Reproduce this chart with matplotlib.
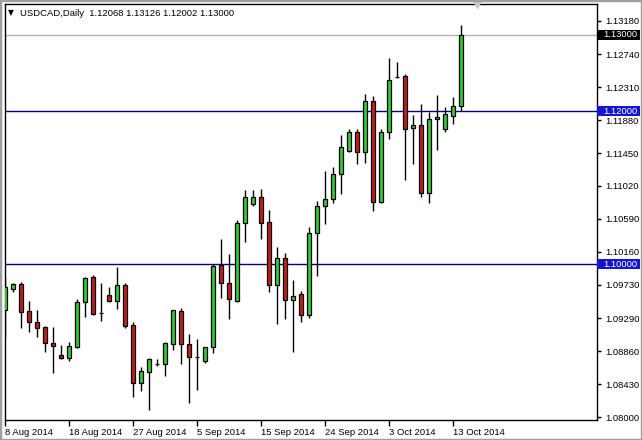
import numpy as np
import pandas as pd
import matplotlib
matplotlib.use("Agg")
import matplotlib.pyplot as plt
import matplotlib.transforms as mtransforms
from matplotlib.patches import Rectangle

plt.rcParams['font.family'] = ['Liberation Sans', 'DejaVu Sans']

# Daily bars, broker feed includes Sunday sessions (Saturdays skipped)
days = pd.date_range("2014-08-08", "2014-10-14", freq="D")
dates = [d for d in days if d.weekday() != 5]

opens = [1.09399, 1.09669, 1.09739, 1.09382, 1.09242, 1.09176, 1.08963, 1.08810,
         1.08775, 1.08911, 1.09507, 1.09830, 1.09355, 1.09595, 1.09520, 1.09725,
         1.09203, 1.08440, 1.08592, 1.08693, 1.08689, 1.08950, 1.09389, 1.08950,
         1.08788, 1.08736, 1.08911, 1.09987, 1.09748, 1.09516, 1.10532, 1.10780,
         1.10880, 1.10545, 1.09725, 1.10074, 1.09529, 1.09608, 1.09333, 1.10401,
         1.10758, 1.10846, 1.11173, 1.11477, 1.11722, 1.11460, 1.12131, 1.10807,
         1.11722, 1.12450, 1.12458, 1.11774, 1.11817, 1.10932, 1.11891, 1.11761,
         1.11939, 1.12068]
highs = [1.09830, 1.09756, 1.09761, 1.09516, 1.09399, 1.09190, 1.09172, 1.08941,
         1.08984, 1.09542, 1.09834, 1.09856, 1.09756, 1.09695, 1.09965, 1.09748,
         1.09238, 1.08650, 1.08770, 1.08758, 1.08984, 1.09405, 1.09421, 1.09085,
         1.09020, 1.08915, 1.09996, 1.10323, 1.10131, 1.10575, 1.10967, 1.10967,
         1.10980, 1.10706, 1.10226, 1.10140, 1.09791, 1.09647, 1.10488, 1.10824,
         1.11220, 1.11272, 1.11686, 1.11765, 1.11765, 1.12222, 1.12196, 1.11765,
         1.12697, 1.12644, 1.12484, 1.11948, 1.12092, 1.11991, 1.12209, 1.12048,
         1.12187, 1.13126]
lows = [1.09042, 1.09634, 1.09167, 1.09115, 1.09050, 1.08854, 1.08579, 1.08754,
        1.08736, 1.08898, 1.09311, 1.09330, 1.09255, 1.09510, 1.09412, 1.09167,
        1.08265, 1.08344, 1.08091, 1.08667, 1.08536, 1.08876, 1.08689, 1.08187,
        1.08353, 1.08710, 1.08840, 1.09559, 1.09277, 1.09507, 1.10291, 1.10762,
        1.10327, 1.09638, 1.09216, 1.09277, 1.08846, 1.09246, 1.09290, 1.09847,
        1.10519, 1.10801, 1.10911, 1.11468, 1.11303, 1.11324, 1.10697, 1.10794,
        1.11630, 1.12427, 1.11098, 1.11303, 1.10880, 1.10801, 1.11490, 1.11729,
        1.11830, 1.12002]
closes = [1.09695, 1.09739, 1.09376, 1.09238, 1.09167, 1.08963, 1.08932, 1.08775,
          1.08928, 1.09499, 1.09813, 1.09346, 1.09355, 1.09520, 1.09725, 1.09193,
          1.08440, 1.08601, 1.08758, 1.08693, 1.08967, 1.09399, 1.08950, 1.08788,
          1.08788, 1.08911, 1.09980, 1.09748, 1.09539, 1.10532, 1.10872, 1.10880,
          1.10532, 1.09725, 1.10074, 1.09529, 1.09582, 1.09333, 1.10401, 1.10758,
          1.10846, 1.11173, 1.11525, 1.11722, 1.11460, 1.12131, 1.10807, 1.11722,
          1.12405, 1.12450, 1.11761, 1.11817, 1.10932, 1.11895, 1.11925, 1.11957,
          1.12065, 1.13000]

price_ticks = [1.08000, 1.08430, 1.08860, 1.09290, 1.09730, 1.10160, 1.10590,
               1.11020, 1.11450, 1.11880, 1.12310, 1.12740, 1.13180]
levels = [1.10000, 1.12000]
bid = 1.13000
symbol = "USDCAD,Daily"

W, H = 642, 440
fig = plt.figure(figsize=(W / 100, H / 100), dpi=100)
fig.patch.set_facecolor('white')
ax = fig.add_axes([5 / W, 20 / H, 592 / W, 416 / H])

x = np.arange(len(dates))
o = np.array(opens)
c = np.array(closes)
colors = np.where(c > o, '#32CD32', np.where(c < o, '#C81E1E', 'black'))

ax.vlines(x, lows, highs, color='black', lw=1, zorder=3)
ax.bar(x, c - o, bottom=o, width=0.62, color=colors, edgecolor='black',
       linewidth=0.9, zorder=4)

# support / resistance levels and current bid line
for lv in levels:
    ax.axhline(lv, color='#000080', lw=1, zorder=2)
ax.axhline(bid, color='#b4b4b4', lw=1, zorder=1)

ax.set_xlim(0, 74)
ax.set_ylim(1.07961, 1.13399)

tick_idx = list(range(0, len(dates), 8))
ax.set_xticks(tick_idx)
ax.set_xticklabels([f"{dates[i].day} {dates[i]:%b %Y}" for i in tick_idx],
                   fontsize=6.8, ha='left')
ax.tick_params(axis='x', direction='out', length=4, width=1, pad=1.5)

ax.yaxis.tick_right()
ax.set_yticks(price_ticks)
ax.set_yticklabels([f"{p:.5f}" for p in price_ticks], fontsize=6.8)
ax.tick_params(axis='y', direction='out', length=3, width=1, pad=3)

for sp in ax.spines.values():
    sp.set_color('black')
    sp.set_linewidth(1)

# price tags on the right scale
trans = mtransforms.blended_transform_factory(ax.transAxes, ax.transData)
tag_h = 10 / 7650
tags = [(lv, '#1414D2') for lv in levels] + [(bid, 'black')]
for val, fc in tags:
    ax.add_patch(Rectangle((1.0, val - tag_h / 2), 43 / 592, tag_h, transform=trans,
                           facecolor=fc, edgecolor='none', clip_on=False, zorder=6))
    ax.text(1.0 + 6 / 592, val, f"{val:.5f}", transform=trans, color='white',
            fontsize=6.8, va='center', ha='left', zorder=7, clip_on=False)

# chart shift marker at the top
ax.plot([59], [1.0], marker='v', color='#c8c8c8', markersize=6, clip_on=False,
        transform=mtransforms.blended_transform_factory(ax.transData, ax.transAxes),
        zorder=5)

# header text
fig.text(8 / W, 1 - 13 / H, "\u25BC", fontsize=5.5, va='center', ha='left',
         family=['DejaVu Sans'])
fig.text(20 / W, 1 - 13 / H,
         f"{symbol}  {opens[-1]:.5f} {highs[-1]:.5f} {lows[-1]:.5f} {closes[-1]:.5f}",
         fontsize=6.8, va='center', ha='left')

# window frame
fig.patches.append(Rectangle((0, 0), 1, 1, transform=fig.transFigure, fill=False,
                             edgecolor='#a0a0a0', lw=2.5))

fig.savefig("out.png", dpi=100)
